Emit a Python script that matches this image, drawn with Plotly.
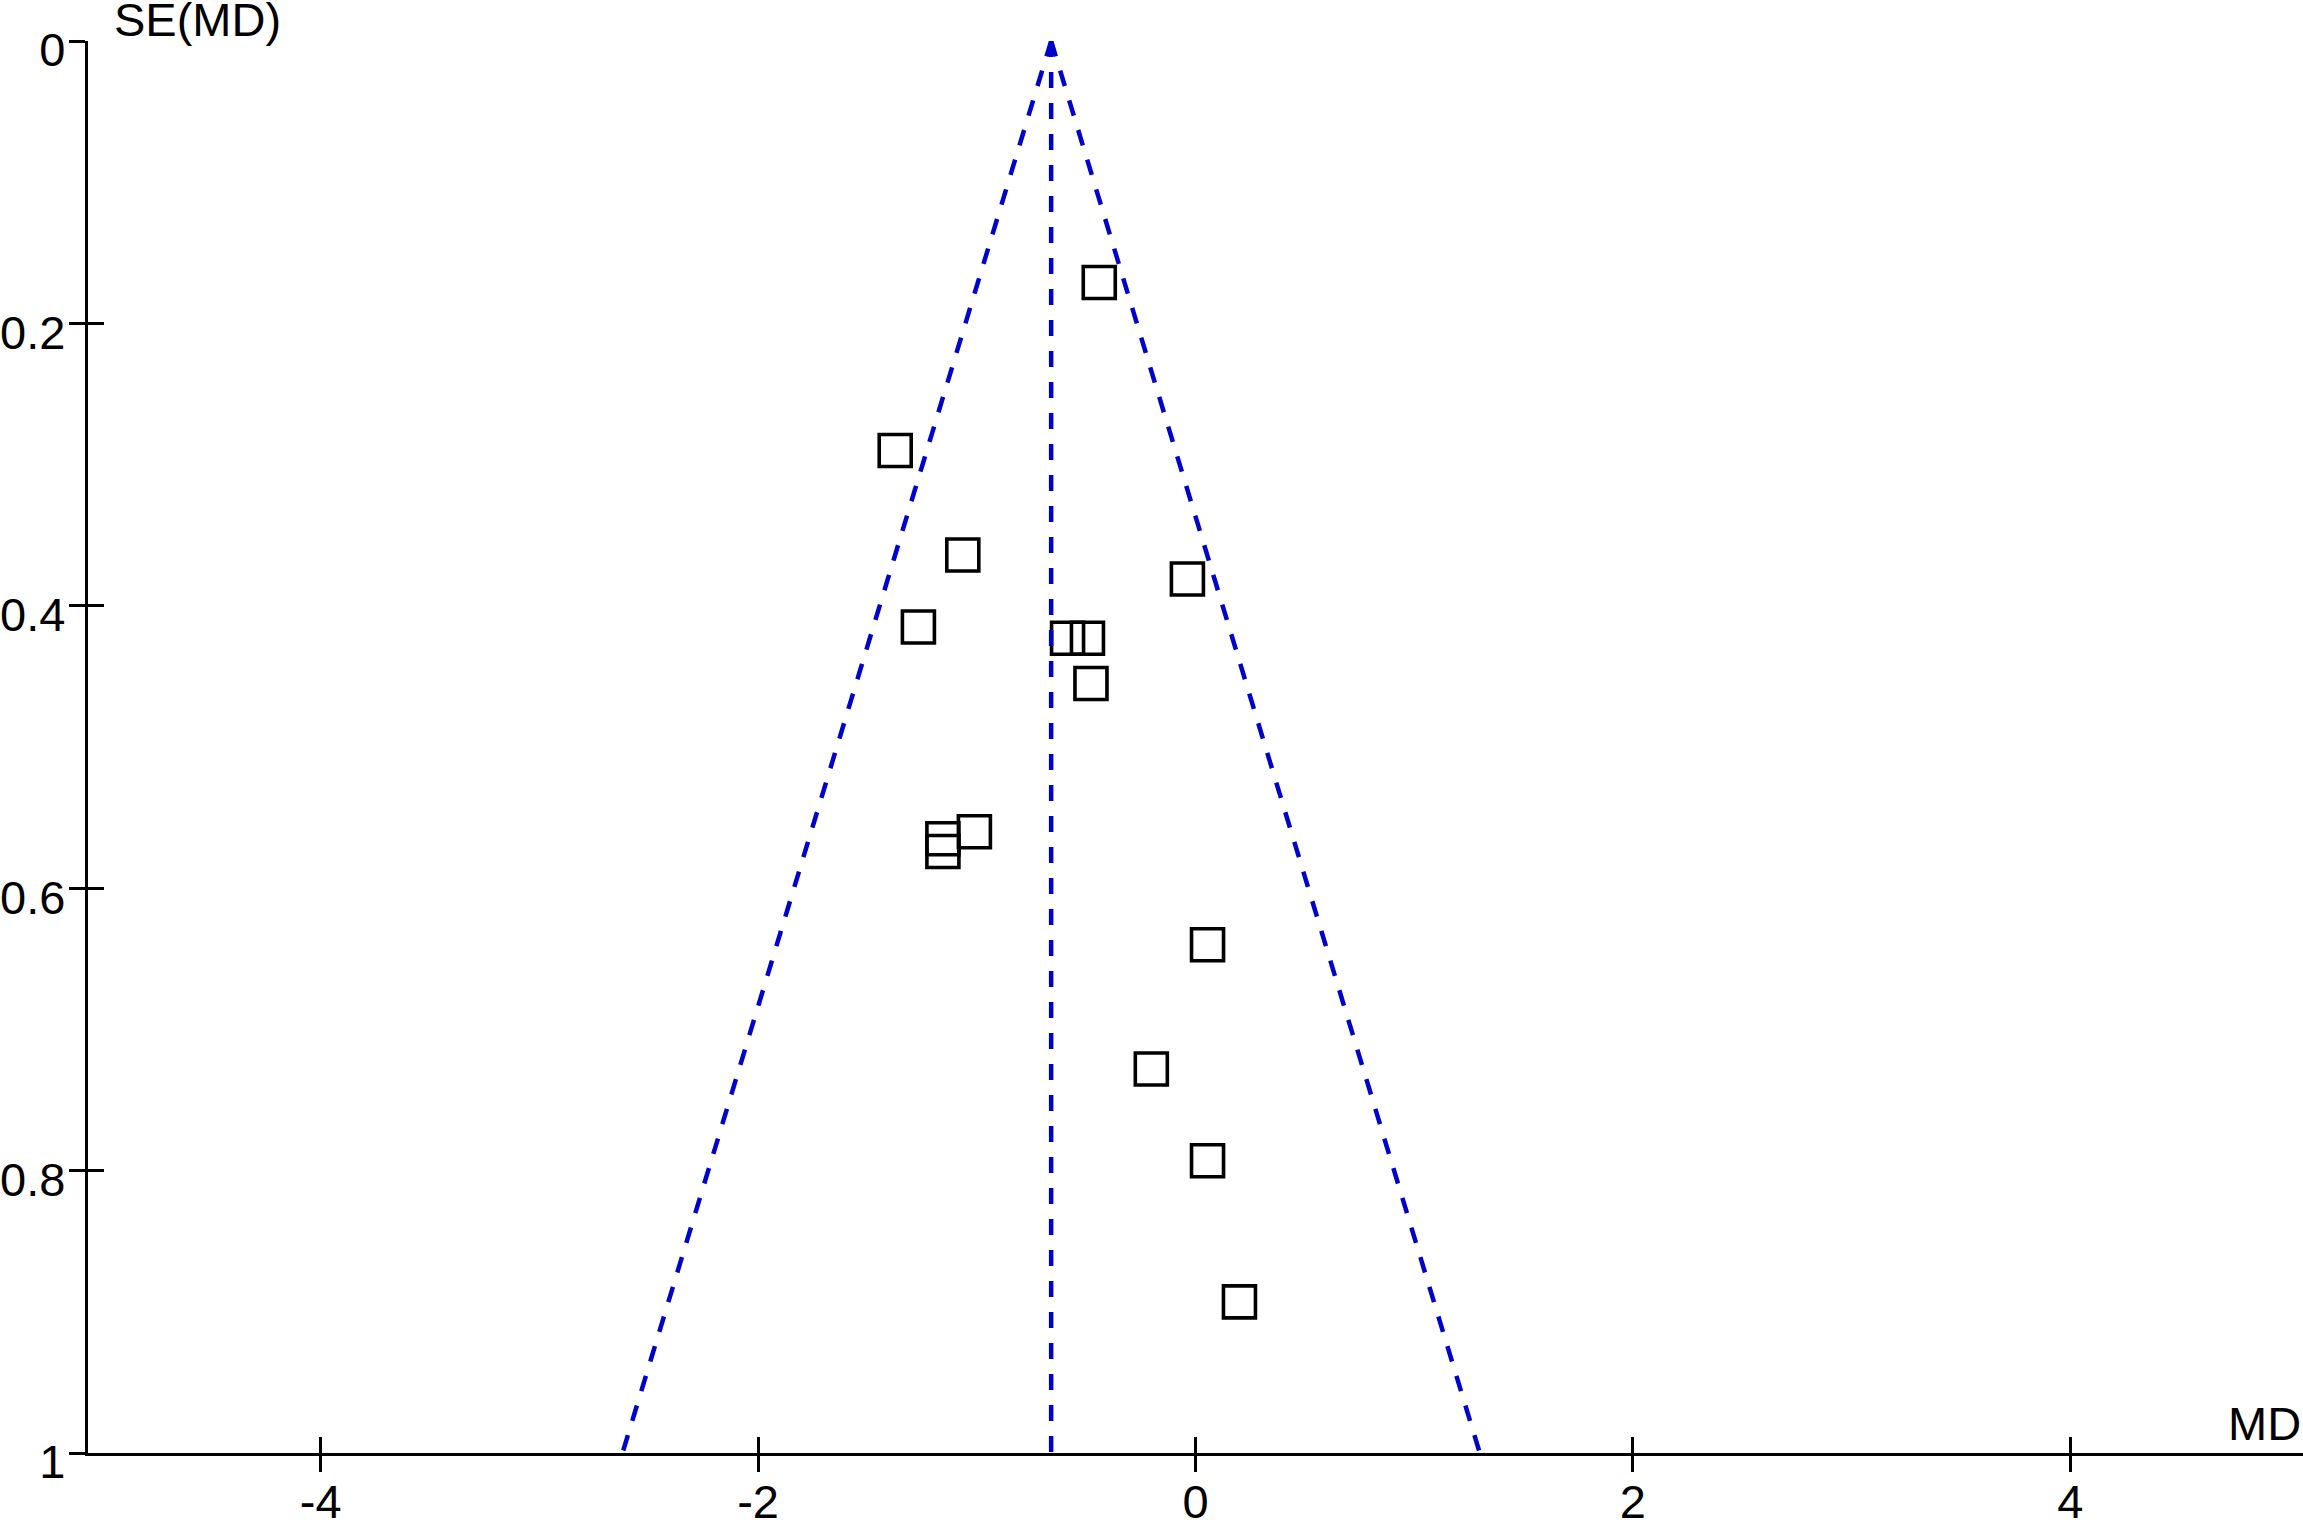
import plotly.graph_objects as go

# ---- data ----
md = [-0.440, -1.373, -1.064, -0.037, -1.267, -0.585, -0.494, -0.478,
      -1.011, -1.155, -1.155, 0.055, -0.202, 0.055, 0.201]
se = [0.171, 0.290, 0.364, 0.381, 0.415, 0.423, 0.423, 0.455,
      0.560, 0.565, 0.574, 0.640, 0.728, 0.793, 0.893]
pooled_md = -0.66
se_max = 1.0
z = 1.96

x_ticks = [-4, -2, 0, 2, 4]
x_ticktext = ["-4", "-2", "0", "2", "4"]
y_ticks = [0, 0.2, 0.4, 0.6, 0.8, 1.0]
y_ticktext = ["0", "0.2", "0.4", "0.6", "0.8", "1"]

X_RANGE = [-5.064, 5.064]
Y_RANGE = [1.0, 0.0]

FONT = "Liberation Sans, Arial, sans-serif"
FS = 47
BLUE = "#0000CC"
LW = 3.4

fig = go.Figure()

# funnel: left limit, centre line, right limit (drawn from the apex downwards)
funnel = [
    ([pooled_md, pooled_md - z * se_max], [0, se_max]),
    ([pooled_md, pooled_md], [0, se_max]),
    ([pooled_md, pooled_md + z * se_max], [0, se_max]),
]
for fx, fy in funnel:
    fig.add_trace(go.Scatter(
        x=fx, y=fy, mode="lines", xaxis="x2", yaxis="y2",
        line=dict(color=BLUE, width=4.5, dash="16px,15px"),
        hoverinfo="skip", showlegend=False,
    ))

fig.add_trace(go.Scatter(
    x=md, y=se, mode="markers",
    marker=dict(symbol="square-open", size=32, color="black",
                line=dict(width=3.6, color="black")),
    showlegend=False,
))

axis_common = dict(showgrid=False, zeroline=False, fixedrange=True,
                   automargin=False)

fig.update_layout(
    width=2303, height=1520,
    paper_bgcolor="white", plot_bgcolor="white",
    margin=dict(l=88, r=0, t=41, b=67, pad=0, autoexpand=False),
    font=dict(family=FONT, size=FS, color="black"),
    xaxis=dict(range=X_RANGE, showline=True, linecolor="black", linewidth=LW,
               ticks="outside", ticklen=16, tickwidth=LW, tickcolor="black",
               tickvals=x_ticks, ticktext=x_ticktext,
               tickfont=dict(family=FONT, size=FS, color="black"),
               ticklabelstandoff=-11,
               anchor="y", **axis_common),
    yaxis=dict(range=Y_RANGE, showline=True, linecolor="black", linewidth=LW,
               ticks="outside", ticklen=16, tickwidth=LW, tickcolor="black",
               tickvals=y_ticks, ticktext=y_ticktext,
               tickfont=dict(family=FONT, size=FS, color="black"),
               ticklabelshift=-9, ticklabelstandoff=-6,
               anchor="x", **axis_common),
    xaxis2=dict(range=X_RANGE, overlaying="x", anchor="y2", side="bottom",
                showline=False, ticks="inside", ticklen=16, tickwidth=LW,
                tickcolor="black", tickvals=x_ticks, showticklabels=False,
                **axis_common),
    yaxis2=dict(range=Y_RANGE, overlaying="y", anchor="x2", side="left",
                showline=False, ticks="inside", ticklen=16, tickwidth=LW,
                tickcolor="black", tickvals=y_ticks, showticklabels=False,
                **axis_common),
    annotations=[
        dict(text="SE(MD)", xref="paper", yref="paper", x=0, y=1,
             xanchor="left", yanchor="middle", xshift=24, yshift=22,
             showarrow=False, font=dict(family=FONT, size=FS, color="black")),
        dict(text="MD", xref="paper", yref="paper", x=1, y=0,
             xanchor="right", yanchor="middle", xshift=0, yshift=30,
             showarrow=False, font=dict(family=FONT, size=FS, color="black")),
    ],
)

# remove the browser's default 8px body margin so the figure fills the page
fig.write_html("out.html",
               config={"displayModeBar": False},
               post_script="document.body.style.margin='0';")
